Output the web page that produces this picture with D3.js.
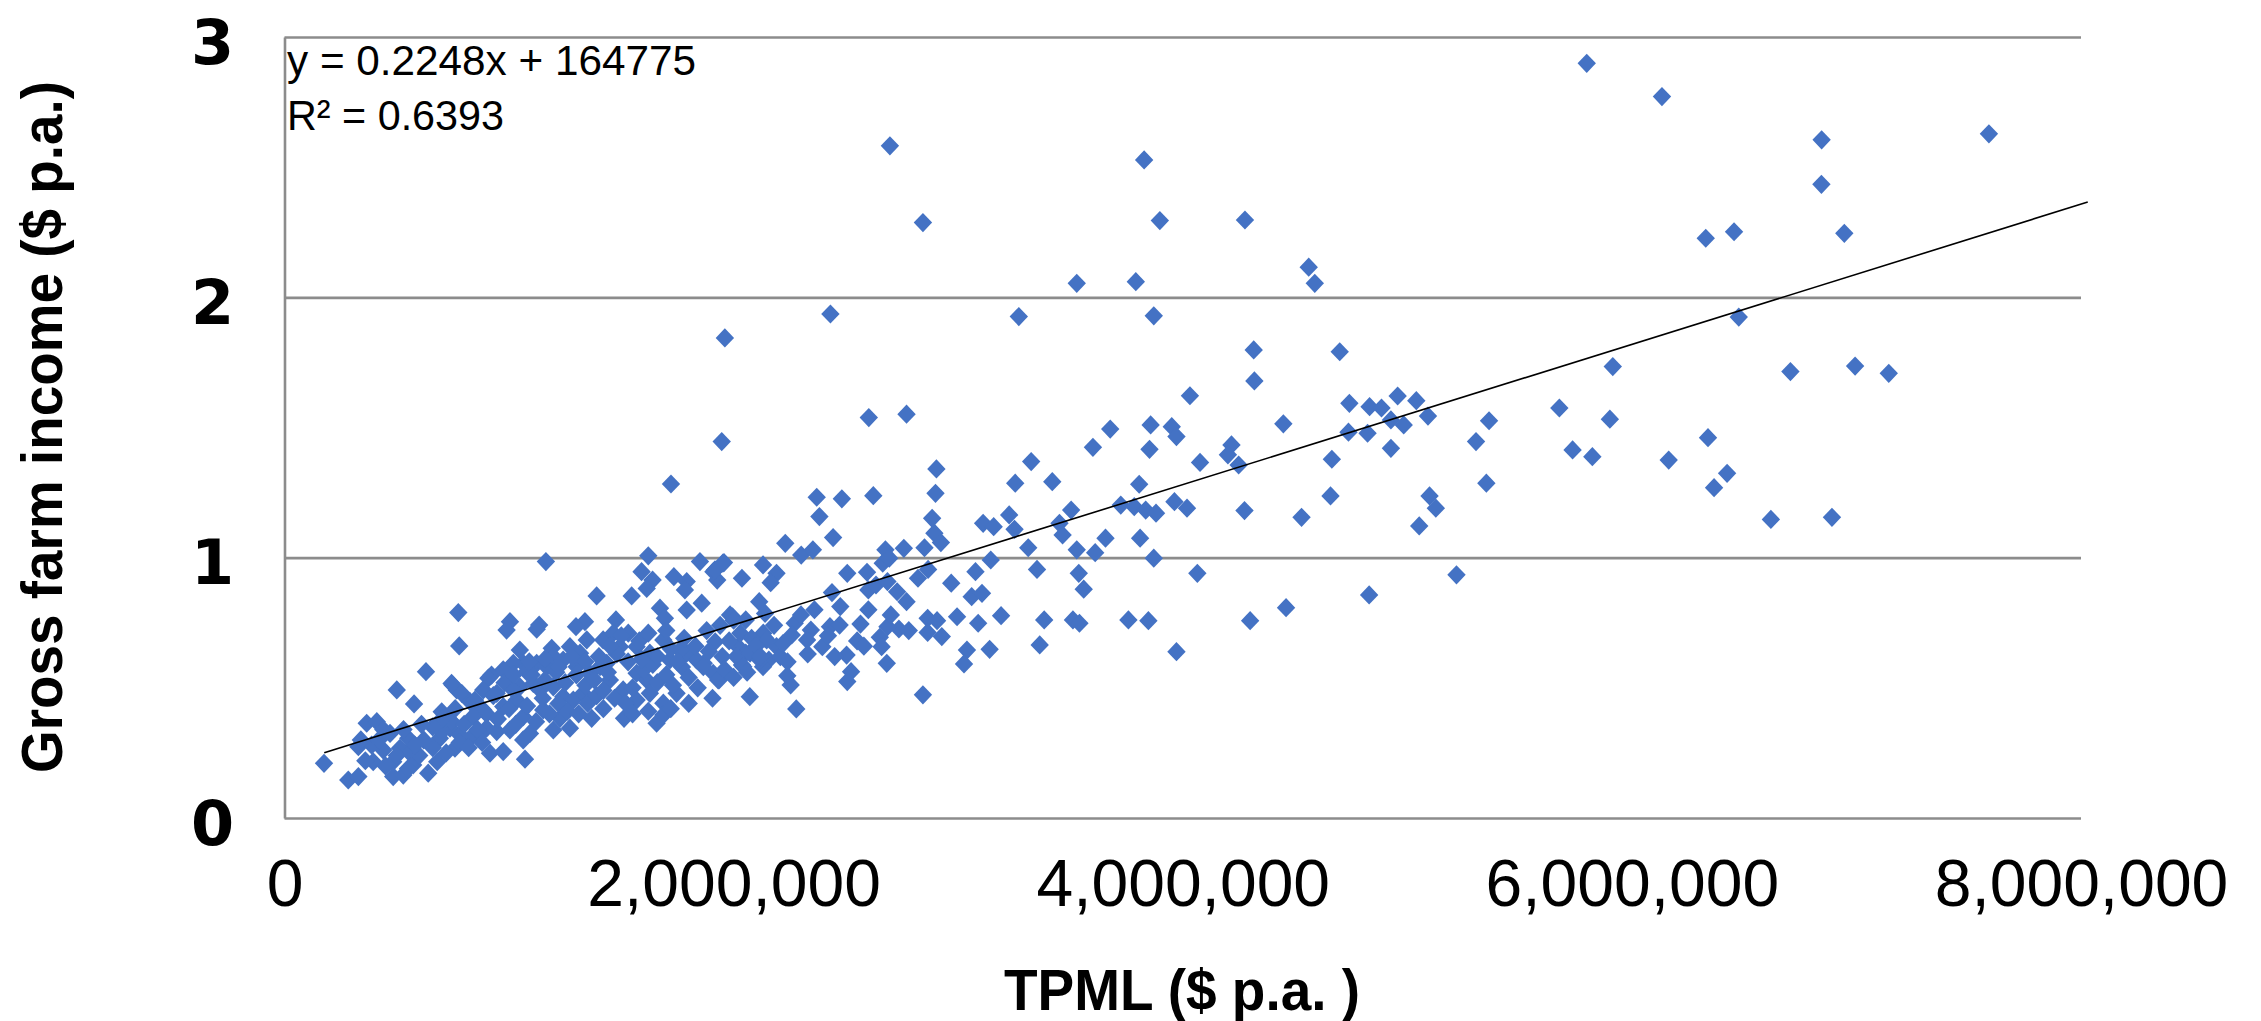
<!DOCTYPE html>
<html>
<head>
<meta charset="utf-8">
<script src="https://cdn.jsdelivr.net/npm/d3@7"></script>
<style>
  body { margin: 0; background: #fff; }
  svg { display: block; }
</style>
</head>
<body>
<svg width="2261" height="1021"></svg>
<script>
// each farm: [TPML, gross farm income], both in $ million
const farmPoints = [
  [2.696,2.582],[2.843,2.287],[1.961,1.844],[2.431,1.936],
  [5.799,2.899],[3.828,2.528],[3.898,2.295],[4.277,2.297],[4.561,2.116],[4.588,2.054],[3.528,2.054],[3.791,2.060],
  [3.270,1.926],[3.871,1.929],[4.316,1.798],[4.319,1.679],[4.699,1.791],[4.032,1.622],[4.742,1.593],[4.832,1.580],
  [4.885,1.575],[4.957,1.621],[5.040,1.603],[5.915,1.734],[5.677,1.575],
  [6.134,2.771],[6.845,2.605],[7.590,2.628],[6.844,2.434],[6.329,2.227],[6.455,2.252],[6.946,2.246],[6.476,1.924],
  [6.706,1.715],[6.994,1.736],[7.144,1.708],
  [5.092,1.544],[4.927,1.529],[4.984,1.510],[4.738,1.482],[4.823,1.478],[4.927,1.420],[4.664,1.378],[4.658,1.237],
  [4.529,1.155],[5.099,1.237],[5.127,1.190],[5.053,1.122],[5.306,1.446],[5.364,1.526],[5.352,1.286],[5.736,1.414],
  [5.824,1.388],[5.902,1.532],[6.164,1.375],[6.339,1.461],[6.424,1.324],[6.366,1.269],[6.619,1.147],[6.891,1.155],
  [5.219,0.934],[4.830,0.857],[4.460,0.808],
  [1.947,1.446],[2.602,1.538],[2.770,1.551],[3.677,1.494],[3.857,1.510],[3.951,1.503],[3.972,1.465],[3.852,1.416],
  [3.600,1.424],[4.448,1.514],[3.325,1.369],[3.419,1.292],[3.254,1.286],[4.077,1.366],[4.217,1.433],[4.201,1.395],
  [4.249,1.356],[2.903,1.341],[2.899,1.247],[2.622,1.238],[2.370,1.232],[2.482,1.226],[2.382,1.158],[3.806,1.282],
  [3.724,1.202],[3.784,1.196],[3.835,1.183],[3.881,1.171],[3.963,1.215],[4.019,1.190],[4.275,1.181],[3.503,1.183],
  [3.451,1.132],[3.465,1.087],[3.227,1.164],[3.251,1.109],[3.312,1.038],[3.528,1.030],[3.610,1.019],[3.656,1.075],
  [3.810,1.075],[3.871,0.998],[4.065,0.940],[3.537,0.940],[3.559,0.879],[3.351,0.955],[3.111,1.132],[3.158,1.119],
  [3.145,0.991],[3.077,0.946],[2.969,0.902],[3.060,0.850],[3.106,0.863],[3.191,0.777],[3.089,0.748],[2.995,0.773],
  [3.383,0.761],[3.511,0.761],[3.540,0.748],[3.758,0.761],[3.847,0.758],[4.300,0.758],[3.363,0.665],[3.140,0.648],
  [3.039,0.645],[3.026,0.592],[3.972,0.639],[2.843,0.473],[2.682,0.594],[2.503,0.626],[2.523,0.562],[2.506,0.524],
  [2.279,0.419],[2.072,0.466],[1.906,0.460],[1.935,0.530],[2.239,0.546],[2.254,0.511],[2.736,0.726],[2.685,0.735],
  [2.651,0.694],[2.659,0.658],[2.864,0.767],[2.906,0.758],[2.864,0.713],[2.927,0.697],[2.565,0.745],[2.429,0.735],
  [2.472,0.741],[2.272,0.748],[2.259,0.703],[2.344,0.722],[2.327,0.684],[2.395,0.658],[2.475,0.812],[2.438,0.866],
  [2.506,0.940],[2.594,0.944],[2.600,0.876],[2.634,0.895],[2.685,0.908],[2.728,0.869],[2.770,0.831],[2.676,1.030],
  [2.664,0.979],[2.693,0.998],[2.758,1.036],[2.821,0.921],[2.866,0.955],[2.850,1.038],[2.894,1.094],[2.923,1.058],
  [2.884,1.151],[2.230,1.055],[2.301,1.010],[2.353,1.030],[2.443,1.077],[2.037,0.921],[2.131,0.972],[2.191,0.940],
  [2.165,0.904],[1.952,0.979],[1.910,0.946],[1.927,0.914],[1.858,0.825],[2.114,0.831],[2.140,0.786],[1.995,0.773],
  [2.054,0.761],[1.918,0.677],[2.020,0.658],[2.054,0.633],[2.140,0.690],[2.191,0.658],[2.157,0.607],[2.208,0.620],
  [1.867,0.594],[2.037,0.588],[2.131,0.581],
  [1.721,1.283],[1.164,0.985],[1.620,1.007],[1.590,0.946],[1.639,0.914],[1.613,0.882],[1.850,0.985],[1.917,0.953],
  [1.957,0.981],[1.734,0.927],[1.791,0.908],[1.783,0.876],[1.390,0.853],[1.546,0.853],[1.672,0.806],[1.694,0.767],
  [1.791,0.799],[1.984,0.780],[0.774,0.789],[0.778,0.661],[1.004,0.754],[0.989,0.722],[1.134,0.741],[1.123,0.725],
  [1.338,0.754],[1.298,0.735],[1.476,0.761],[1.190,0.652],[1.048,0.645],[0.922,0.549],[0.908,0.537],[0.630,0.562],
  [0.500,0.492],[0.577,0.438],[0.744,0.517],[0.767,0.492],[0.700,0.408],[0.737,0.376],[0.366,0.364],[0.411,0.370],
  [0.329,0.274],[0.388,0.280],[0.440,0.261],[0.551,0.306],[0.514,0.268],[0.559,0.249],[0.470,0.325],[0.484,0.216],
  [0.395,0.216],[0.176,0.210],[0.284,0.146],[0.329,0.159],[0.484,0.159],[0.529,0.165],[0.573,0.204],[0.640,0.172],
  [0.680,0.216],[0.692,0.306],[0.737,0.345],[0.759,0.268],[0.781,0.319],[0.826,0.306],[0.870,0.325],[0.749,0.511],
  [0.789,0.479],[0.826,0.447],[0.856,0.428],[0.744,0.370],[0.915,0.249],[0.974,0.255],[1.071,0.226],[0.900,0.345],
  [0.945,0.332],[1.004,0.338],[1.063,0.300],[1.093,0.325],[0.885,0.415],[0.974,0.428],[1.034,0.453],[1.063,0.389],
  [1.048,0.504],[1.108,0.517],[1.138,0.492],[1.063,0.594],[1.078,0.562],[1.197,0.504],[1.241,0.466],[1.286,0.453],
  [1.330,0.479],[1.152,0.415],[1.197,0.338],[1.227,0.383],[1.271,0.345],[1.368,0.383],[1.301,0.581],[1.360,0.556],
  [1.405,0.581],[1.435,0.594],[1.449,0.530],[1.508,0.492],[1.568,0.556],[1.613,0.530],[1.512,0.383],[1.568,0.453],
  [1.627,0.479],[1.687,0.441],[1.746,0.479],[1.657,0.364],[1.687,0.396],[1.791,0.633],[1.835,0.607],[1.865,0.581],
  [1.909,0.556],[1.931,0.530],[2.013,0.620],[2.043,0.581],[2.073,0.633],[2.132,0.710],[2.117,0.607],[2.147,0.684],
  [1.531,0.710],[1.568,0.658],[1.627,0.633],[1.687,0.684],[1.716,0.607],[1.761,0.645],[1.419,0.684],[1.464,0.710],
  [1.494,0.658],[1.271,0.658],[1.316,0.633],[1.346,0.684],[1.241,0.607],[1.123,0.594],[1.167,0.581],[1.197,0.620],
  [1.019,0.594],[0.974,0.569],[0.885,0.492],[0.848,0.453],[0.945,0.479],
  // dense core of the cloud
  [0.90,0.40],[0.95,0.38],[1.00,0.42],[1.03,0.36],[1.08,0.43],[1.12,0.37],[1.15,0.46],[1.18,0.40],[1.22,0.44],
  [1.26,0.41],[1.31,0.40],[1.35,0.44],[1.39,0.47],[1.42,0.42],[0.93,0.47],[0.98,0.52],[1.02,0.49],[1.10,0.55],
  [1.16,0.53],[1.21,0.56],[1.25,0.52],[1.30,0.55],[1.34,0.51],[1.38,0.53],[1.42,0.49],[1.44,0.56],[1.40,0.62],
  [1.34,0.60],[1.28,0.62],[1.22,0.58],[1.16,0.61],[1.09,0.60],[1.02,0.55],
  [1.47,0.46],[1.52,0.44],[1.55,0.50],[1.60,0.57],[1.64,0.59],[1.66,0.52],[1.70,0.55],[1.73,0.51],[1.77,0.58],
  [1.80,0.54],[1.83,0.66],[1.78,0.69],[1.72,0.65],[1.66,0.62],[1.59,0.61],[1.53,0.60],[1.48,0.63],[1.45,0.66],
  [1.50,0.70],[1.58,0.68],[1.62,0.71],[1.70,0.72],[1.75,0.60],[1.84,0.50],[1.80,0.44],[1.72,0.42],[1.62,0.41],
  [1.55,0.40],
  [1.89,0.64],[1.95,0.62],[1.98,0.68],[2.03,0.71],[2.08,0.69],[2.10,0.66],[1.96,0.57],[2.00,0.54],[2.06,0.56],
  [2.12,0.62],[1.88,0.72],[1.94,0.74],[2.00,0.76],[2.18,0.74],[2.22,0.67],[2.24,0.60],
  [0.66,0.27],[0.70,0.33],[0.72,0.25],[0.78,0.29],[0.80,0.36],[0.84,0.39],[0.86,0.34],[0.82,0.27],[0.88,0.29],
  [0.70,0.38],[0.76,0.42],[0.66,0.35],[0.62,0.30],[0.60,0.24],
  [0.34,0.30],[0.36,0.22],[0.42,0.30],[0.45,0.20],[0.50,0.24],[0.53,0.34],[0.58,0.28],[0.61,0.36],[0.55,0.19],
  [0.44,0.34],
  [2.30,0.78],[2.36,0.80],[2.42,0.70],[2.55,0.68],[2.60,0.80],[2.70,0.78],[2.78,0.72],[2.33,0.63],[2.45,0.62],
  [2.58,0.66]
];

const xTicks = [0, 2000000, 4000000, 6000000, 8000000];
const yTicks = [0, 1, 2, 3];
// excel linear trendline, start and end as drawn ($ million)
const trendEnds = [[0.177, 0.251], [8.03, 2.366]];
const trendText = ["y = 0.2248x + 164775", "R\u00b2 = 0.6393"];

var svg = d3.select("svg");

var x = d3.scaleLinear().domain([0, 8000000]).range([284.5, 2081]);
var y = d3.scaleLinear().domain([0, 3]).range([818, 37]);

var gridColor = "#8c8c8c";

// y axis with gridlines
var yAxis = svg.append("g")
    .attr("transform", "translate(" + x(0) + ",0)")
    .call(d3.axisLeft(y)
        .tickValues(yTicks)
        .tickFormat(d3.format("d"))
        .tickSize(-(x.range()[1] - x.range()[0]))
        .tickSizeOuter(0));

yAxis.select(".domain")
    .attr("stroke", gridColor)
    .attr("stroke-width", 2.6);
yAxis.selectAll(".tick line")
    .attr("stroke", gridColor)
    .attr("stroke-width", 2.6);
yAxis.selectAll(".tick text")
    .attr("x", -72)
    .attr("dy", "0.42em")
    .attr("text-anchor", "middle")
    .attr("fill", "#000")
    .style("font-family", "'DejaVu Sans', sans-serif")
    .style("font-weight", "bold")
    .style("font-size", "62px");

// x axis, labels only
var xAxis = svg.append("g")
    .attr("transform", "translate(0," + y(0) + ")")
    .call(d3.axisBottom(x)
        .tickValues(xTicks)
        .tickSize(0)
        .tickFormat(d3.format(",")));

xAxis.select(".domain").remove();
xAxis.selectAll(".tick text")
    .attr("y", 88)
    .attr("dy", 0)
    .attr("fill", "#000")
    .style("font-family", "'Liberation Sans', Arial, sans-serif")
    .style("font-size", "66px");

// diamond markers
var diamond = "M0,-9.6L9.2,0L0,9.6L-9.2,0Z";

svg.append("g")
    .attr("class", "points")
    .selectAll("path")
    .data(farmPoints)
    .enter().append("path")
    .attr("d", diamond)
    .attr("transform", function (d) {
        return "translate(" + x(d[0] * 1e6) + "," + y(d[1]) + ")";
    })
    .attr("fill", "#4472c4");

// trendline sits on top of the markers
var trendLine = d3.line()
    .x(function (d) { return x(d[0] * 1e6); })
    .y(function (d) { return y(d[1]); });

svg.append("path")
    .datum(trendEnds)
    .attr("d", trendLine)
    .attr("fill", "none")
    .attr("stroke", "#000")
    .attr("stroke-width", 1.6);

// equation label
var eqWidths = [409, 217];
svg.append("g")
    .selectAll("text")
    .data(trendText)
    .enter().append("text")
    .attr("x", 287)
    .attr("y", function (d, i) { return 75 + i * 55; })
    .attr("textLength", function (d, i) { return eqWidths[i]; })
    .attr("lengthAdjust", "spacingAndGlyphs")
    .style("font-family", "'Liberation Sans', Arial, sans-serif")
    .style("font-size", "42px")
    .attr("fill", "#000")
    .text(function (d) { return d; });

// axis titles
svg.append("text")
    .attr("transform", "translate(62,427) rotate(-90)")
    .attr("text-anchor", "middle")
    .attr("textLength", 692)
    .attr("lengthAdjust", "spacingAndGlyphs")
    .style("font-family", "'Liberation Sans', Arial, sans-serif")
    .style("font-weight", "bold")
    .style("font-size", "58px")
    .text("Gross farm income ($ p.a.)");

svg.append("text")
    .attr("x", 1182)
    .attr("y", 1010)
    .attr("text-anchor", "middle")
    .attr("textLength", 356)
    .attr("lengthAdjust", "spacingAndGlyphs")
    .style("font-family", "'Liberation Sans', Arial, sans-serif")
    .style("font-weight", "bold")
    .style("font-size", "58px")
    .text("TPML ($ p.a. )");
</script>
</body>
</html>
